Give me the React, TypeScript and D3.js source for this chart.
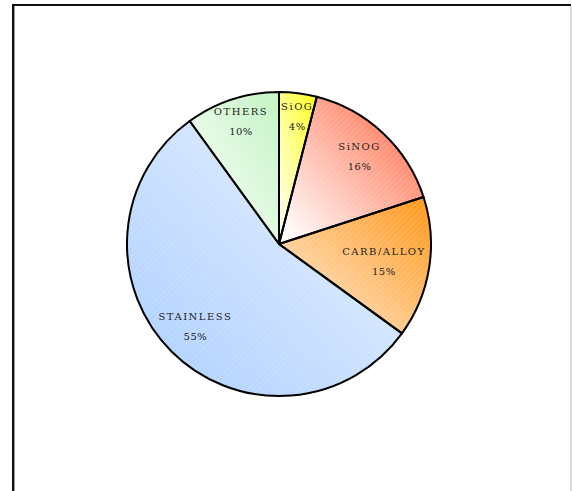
import React from "react";
import * as d3 from "d3";

const categories = ["SiOG", "SiNOG", "CARB/ALLOY", "STAINLESS", "OTHERS"];
const values = [4, 16, 15, 55, 10];
const percentLabels = ["4%", "16%", "15%", "55%", "10%"];
const colorsLight = ["#ffffff", "#ffffff", "#ffeee2", "#a9cdff", "#ffffff"];
const colorsDark = ["#ffff10", "#ff7d5e", "#ff9614", "#eef4ff", "#c2f3c2"];
const gradDirs = [
  [0, 1, 1, 0],
  [0.05, 0.95, 0.85, 0.2],
  [0, 1, 1, 0],
  [0, 1, 1, 0],
  [0, 1, 1, 0],
];
// label anchor positions (relative to center, in units of radius)
const labelOffsets = [
  [0.12, -0.88],
  [0.53, -0.62],
  [0.69, 0.07],
  [-0.55, 0.5],
  [-0.25, -0.85],
];

export default function App() {
  const W = 572;
  const H = 491;
  const cx = 279;
  const cy = 244;
  const r = 152;

  const pie = d3
    .pie<number>()
    .sort(null)
    .value((d) => d)
    .startAngle(0)
    .endAngle(2 * Math.PI);
  const arcs = pie(values);
  const arcGen = d3.arc<d3.PieArcDatum<number>>().innerRadius(0).outerRadius(r);

  return (
    <svg
      width={W}
      height={H}
      style={{ position: "absolute", left: 0, top: 0, background: "#fff" }}
    >
      <defs>
        {categories.map((c, i) => (
          <linearGradient
            key={c}
            id={`g${i}`}
            x1={gradDirs[i][0]}
            y1={gradDirs[i][1]}
            x2={gradDirs[i][2]}
            y2={gradDirs[i][3]}
          >
            <stop offset="0%" stopColor={colorsLight[i]} />
            <stop offset="100%" stopColor={colorsDark[i]} />
          </linearGradient>
        ))}
        <pattern
          id="stripes"
          width="4"
          height="4"
          patternUnits="userSpaceOnUse"
          patternTransform="rotate(45)"
        >
          <line x1="0" y1="0" x2="0" y2="4" stroke="#ffffff" strokeWidth="1" strokeOpacity="0.3" />
        </pattern>
      </defs>
      {/* frame */}
      <rect x={0} y={0} width={W} height={H} fill="#fff" />
      <line x1={13} y1={5} x2={571} y2={5} stroke="#111" strokeWidth={2} />
      <line x1={13} y1={4} x2={13} y2={H} stroke="#111" strokeWidth={2} />
      <line x1={14.5} y1={6} x2={14.5} y2={H} stroke="#999" strokeWidth={1} />
      <line x1={571} y1={6} x2={571} y2={H} stroke="#bbb" strokeWidth={1} />

      <g transform={`translate(${cx},${cy})`}>
        {arcs.map((a, i) => (
          <g key={categories[i]}>
            <path d={arcGen(a) || ""} fill={`url(#g${i})`} />
            <path d={arcGen(a) || ""} fill="url(#stripes)" />
          </g>
        ))}
        {arcs.map((a, i) => (
          <path
            key={"o" + i}
            d={arcGen(a) || ""}
            fill="none"
            stroke="#000"
            strokeWidth={2}
            strokeLinejoin="round"
          />
        ))}
        {arcs.map((a, i) => {
          const x = labelOffsets[i][0] * r;
          const y = labelOffsets[i][1] * r;
          return (
            <g key={"l" + i} fontFamily="'DejaVu Serif', serif" fontSize={10} fill="#222">
              <text x={x} y={y} textAnchor="middle" letterSpacing={1.5}>
                {categories[i]}
              </text>
              <text x={x} y={y + 20} textAnchor="middle" letterSpacing={0.5}>
                {percentLabels[i]}
              </text>
            </g>
          );
        })}
      </g>
    </svg>
  );
}
